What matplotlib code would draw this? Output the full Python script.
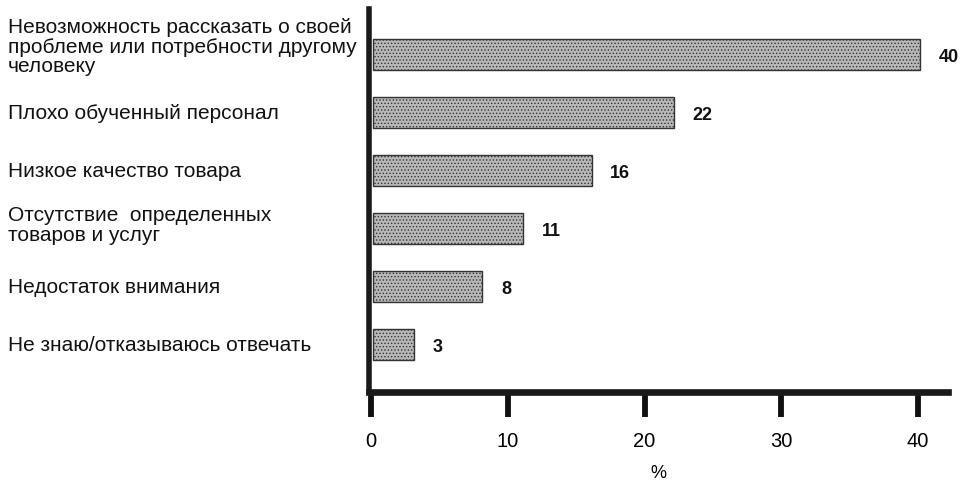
import matplotlib.pyplot as plt
from matplotlib.transforms import blended_transform_factory

# survey answers, top to bottom
categories = ['Невозможность рассказать о своей\nпроблеме или потребности другому\nчеловеку',
              'Плохо обученный персонал',
              'Низкое качество товара',
              'Отсутствие  определенных\nтоваров и услуг',
              'Недостаток внимания',
              'Не знаю/отказываюсь отвечать']
values = [40, 22, 16, 11, 8, 3]
xticks = [0, 10, 20, 30, 40]

plt.rcParams['font.family'] = ['Liberation Sans', 'DejaVu Sans']
plt.rcParams['hatch.color'] = '#5e5e5e'
plt.rcParams['hatch.linewidth'] = 0.6

fig = plt.figure(figsize=(9.67, 4.81), dpi=100)
W, H = 967.0, 481.0
ax = fig.add_axes([369 / W, 1 - 393 / H, (948 - 369) / W, (393 - 10) / H])

ypos = list(range(len(values)))[::-1]
ax.barh(ypos, values, height=0.54, left=0.15, color='#b8b8b8', edgecolor='#333333',
        linewidth=1.0, hatch='.....', zorder=2)

for y, v in zip(ypos, values):
    ax.text(v + 1.5, y - 0.03, str(v), va='center', ha='left', fontsize=13, fontweight='bold', color='#111111')

# category labels sit at the left edge of the figure
trans = blended_transform_factory(fig.transFigure, ax.transData)
for y, c in zip(ypos, categories):
    shift = 0.07 * c.count('\n')
    ax.text(8 / W, y + shift, c, transform=trans, ha='left', va='center', fontsize=15,
            linespacing=1.03, color='#111111', clip_on=False)

ax.set_xlim(-0.146, 42.19)
ax.set_ylim(-0.82, 5.78)
ax.set_xticks(xticks)
ax.set_yticks([])
ax.tick_params(axis='x', direction='out', length=18, width=4.2, color='#111111', pad=10, labelsize=14.5)
for s in ['top', 'right']:
    ax.spines[s].set_visible(False)
ax.spines['left'].set_linewidth(4.0)
ax.spines['bottom'].set_linewidth(4.8)
ax.spines['left'].set_color('#1a1a1a')
ax.spines['bottom'].set_color('#1a1a1a')
ax.set_xlabel('%', fontsize=13, labelpad=10)

fig.savefig('out.png', dpi=100)
